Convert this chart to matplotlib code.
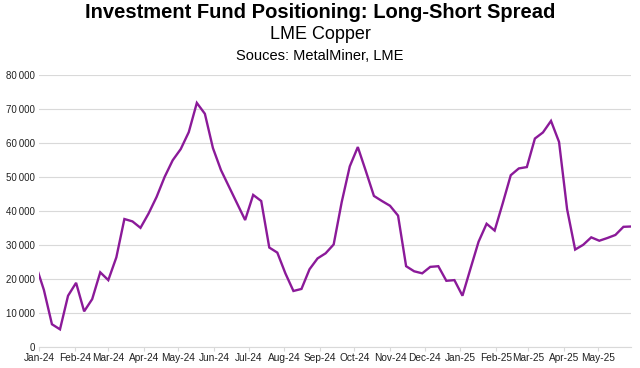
import matplotlib
matplotlib.use("Agg")
import matplotlib.pyplot as plt
import matplotlib.dates as mdates
import numpy as np
import pandas as pd
from matplotlib.ticker import FuncFormatter, MultipleLocator

plt.rcParams["font.family"] = ["Liberation Sans", "DejaVu Sans"]

# Weekly (Friday) long-short spread
start_date = "2023-12-29"
spread = [
    24000, 16700, 6600, 5100, 15000, 18800, 10400, 14000, 21900, 19600,
    26300, 37600, 36900, 35000, 39200, 44100, 50000, 54900, 58200, 63200,
    71800, 68600, 58500, 52000, 47100, 42200, 37300, 44700, 42900, 29200,
    27700, 21600, 16400, 17000, 22800, 26000, 27500, 30100, 42600, 53100,
    58800, 51700, 44400, 42900, 41500, 38600, 23700, 22200, 21600, 23500,
    23700, 19400, 19600, 15000, 23000, 30900, 36200, 34200, 42200, 50500,
    52500, 52900, 61300, 63100, 66500, 60300, 40500, 28600, 30000, 32200,
    31200, 32000, 32900, 35300, 35400,
]
dates = pd.date_range(start_date, periods=len(spread), freq="7D")

title = "Investment Fund Positioning: Long-Short Spread"
subtitle = "LME Copper"
source = "Souces: MetalMiner, LME"

fig = plt.figure(figsize=(6.4, 3.68), dpi=100)
ax = fig.add_axes([0.0614, 0.058, 0.9253, 0.738])

ax.plot(dates, spread, color="#8B1A99", linewidth=1.7, solid_joinstyle="miter")

ax.set_xlim(pd.Timestamp("2024-01-01"), dates[-1])
ax.set_ylim(0, 80000)
ax.yaxis.set_major_locator(MultipleLocator(10000))
ax.yaxis.set_major_formatter(
    FuncFormatter(lambda v, p: f"{int(v):,}".replace(",", "\u2009"))
)
ax.xaxis.set_major_locator(mdates.MonthLocator())
ax.xaxis.set_major_formatter(mdates.DateFormatter("%b-%y"))

ax.grid(axis="y", color="#D9D9D9", linewidth=0.8)
ax.set_axisbelow(True)
for side in ["top", "right", "left"]:
    ax.spines[side].set_visible(False)
ax.spines["bottom"].set_color("#D9D9D9")
ax.spines["bottom"].set_linewidth(0.8)
ax.tick_params(axis="y", length=0, labelsize=7, colors="#222222", pad=3)
ax.tick_params(axis="x", length=3, color="#D9D9D9", labelsize=7.3,
               pad=1.5, labelcolor="#222222")

fig.text(0.5, 0.967, title, ha="center", va="center", fontsize=14.5,
         fontweight="bold")
fig.text(0.5, 0.905, subtitle, ha="center", va="center", fontsize=13)
fig.text(0.5, 0.848, source, ha="center", va="center", fontsize=10.5)

fig.savefig("out.png", dpi=100)
